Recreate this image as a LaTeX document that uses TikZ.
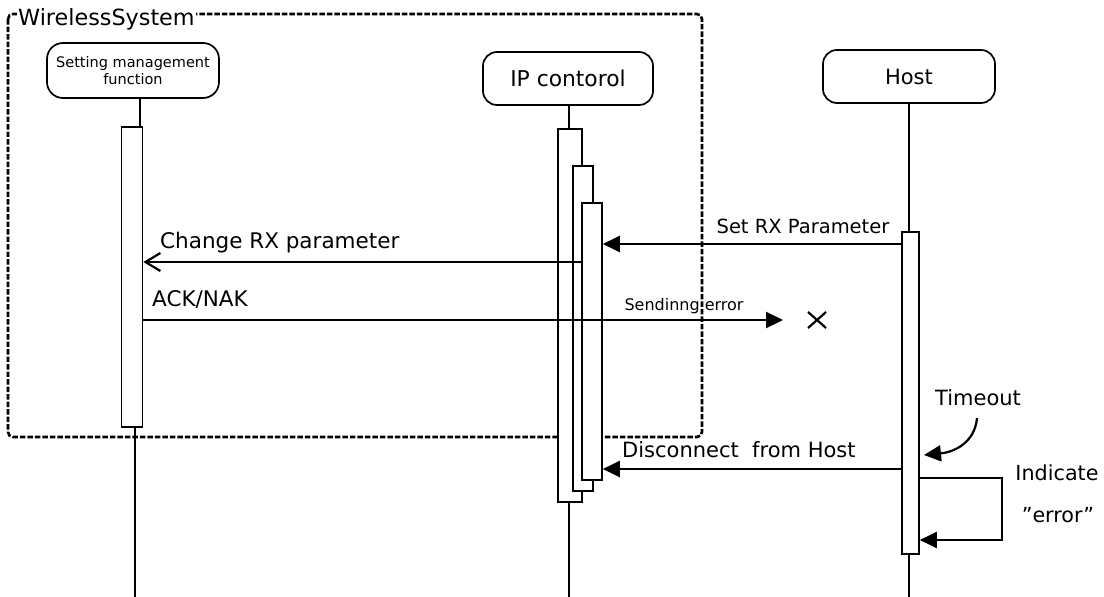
\documentclass[tikz,border=0pt]{standalone}
\usepackage{fontspec}
\setmainfont{DejaVu Sans}
\usetikzlibrary{arrows.meta}
\begin{document}
\begin{tikzpicture}[x=1pt,y=-1pt,
  actor/.style={draw,line width=1.7pt,rounded corners=14pt,fill=white,inner sep=0pt,align=center},
  actbar/.style={draw,line width=1.6pt,fill=white,inner sep=0pt},
  lifeline/.style={line width=1.6pt},
  msg/.style={line width=2.2pt,-{Triangle[length=17pt,width=16pt]}},
  omsg/.style={line width=2.2pt,-{Straight Barb[length=15pt,width=18pt,line width=2.2pt]}},
  lbl/.style={inner sep=0pt,font=\fontsize{21.5}{25}\selectfont},
  frm/.style={line width=2.6pt,dash pattern=on 5.5pt off 2pt,rounded corners=5pt}]
\useasboundingbox (0,0) rectangle (1104,597);
% frame
\draw[frm] (8,14) rectangle (702,437);
\node[lbl,fill=white,anchor=base west,inner xsep=1pt,inner ysep=2pt,font=\fontsize{22.3}{26}\selectfont] (fname) at (17,25) {WirelessSystem};
% actors
\node[actor,minimum width=172pt,minimum height=55pt,rounded corners=16pt,font=\fontsize{14.5}{16.5}\selectfont] (smf) at (133,70.5) {Setting management\\function};
\node[actor,minimum width=170pt,minimum height=53pt,font=\fontsize{21.8}{25}\selectfont] (ip) at (568,78.5) {IP contorol};
\node[actor,minimum width=172pt,minimum height=53pt,font=\fontsize{21}{25}\selectfont] (host) at (909,76.5) {Host};
% lifelines
\coordinate (smfend) at (135,597);
\coordinate (ipend) at (569,597);
\coordinate (hostend) at (909,597);
\node[actbar,minimum width=21pt,minimum height=300pt] (smfbar) at (132,277) {};
\draw[lifeline] (smf.south -| 140,0) -- (smfbar.north -| 140,0);
\draw[lifeline] (smfbar.south -| smfend) -- (smfend);
\draw[lifeline] (ip.south -| ipend) -- (ipend);
\draw[lifeline] (host.south) -- (hostend);
\node[actbar,minimum width=24pt,minimum height=373pt] (ipbar1) at (570,315.5) {};
\node[actbar,minimum width=20pt,minimum height=325pt] (ipbar2) at (583,328.5) {};
\node[actbar,minimum width=20pt,minimum height=277pt] (ipbar3) at (592,341.5) {};
\node[actbar,minimum width=17pt,minimum height=322pt] (hostbar) at (910.5,393) {};
% Set RX Parameter
\draw[msg] (hostbar.west |- 0,244) -- (ipbar3.east |- 0,244);
\node[lbl,anchor=base,font=\fontsize{19.5}{23}\selectfont] (setrx) at (803,233) {Set RX Parameter};
% Change RX parameter
\draw[omsg] (ipbar3.west |- 0,262) -- (smfbar.east |- 0,262);
\node[lbl,anchor=base west] (chrx) at (160,248) {Change RX parameter};
% ACK/NAK
\coordinate (lost) at (783,320);
\draw[msg] (smfbar.east |- lost) -- (lost);
\node[lbl,anchor=base west] (ack) at (152,306) {ACK/NAK};
\node[lbl,anchor=base,font=\fontsize{16}{19}\selectfont] (senderr) at (684,310) {Sendinng error};
\node[inner sep=0pt] (cross) at (817,320) {};
\draw[line width=2.2pt] ([shift={(-9,-8)}]cross.center) -- ([shift={(9,8)}]cross.center)
  ([shift={(-9,8)}]cross.center) -- ([shift={(9,-8)}]cross.center);
% Disconnect from Host
\draw[msg] (hostbar.west |- 0,469) -- (ipbar3.east |- 0,469);
\node[lbl,anchor=base west,font=\fontsize{21}{25}\selectfont] (disc) at (622,457) {Disconnect\ \ from Host};
% Timeout
\node[lbl,anchor=base,font=\fontsize{21}{25}\selectfont] (tmo) at (978,405) {Timeout};
\coordinate (tmostart) at (977,418);
\coordinate (tmoend) at (924,455);
\draw[msg] (tmostart) .. controls (975,442) and (955,452) .. (tmoend);
% self message
\coordinate (selfcorner) at (1002,478);
\draw[msg] (hostbar.east |- selfcorner) -- (selfcorner) -- (1002,540) -- (hostbar.east |- 0,540);
\node[lbl,anchor=base,font=\fontsize{20.7}{25}\selectfont] (ind) at (1057,480) {Indicate};
\node[lbl,anchor=base,font=\fontsize{20.7}{25}\selectfont] (errq) at (1058,522) {\char"22 error\char"22};
\end{tikzpicture}
\end{document}
